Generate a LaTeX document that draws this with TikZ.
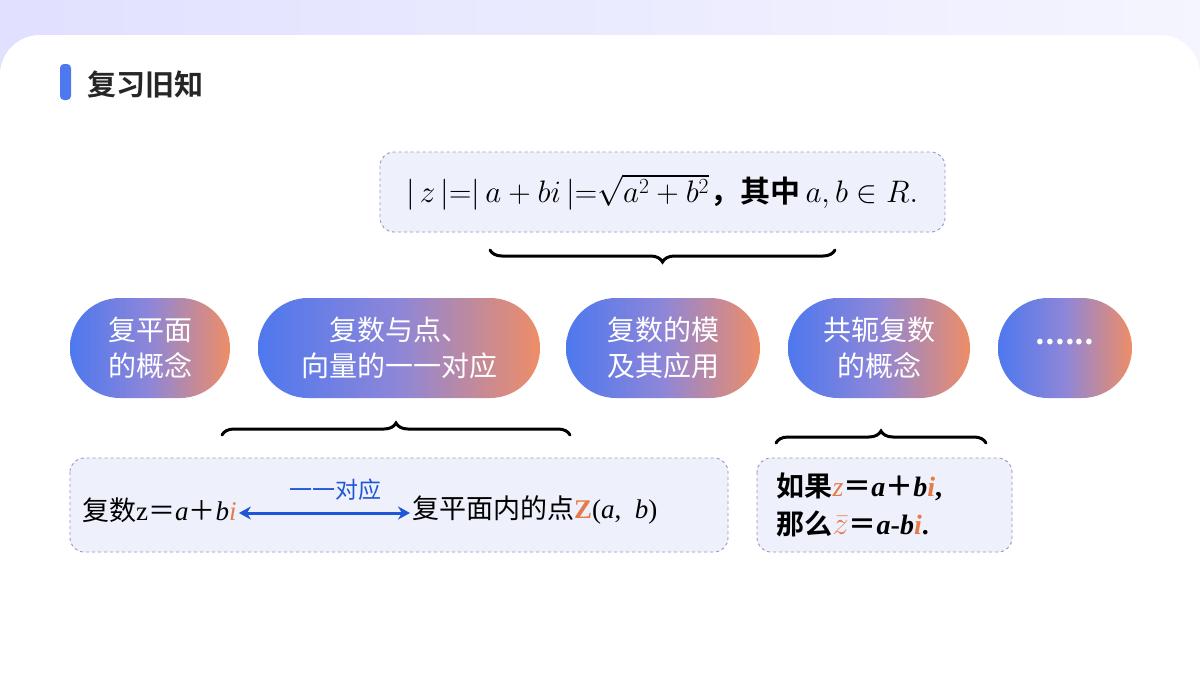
\documentclass[tikz,border=0pt]{standalone}
\usepackage{fontspec}
\usepackage{graphicx}
\setmainfont{Liberation Serif}
\newfontfamily\cjk{Noto Sans CJK SC}[BoldFont={Noto Sans CJK SC Bold}]
\usetikzlibrary{decorations.pathreplacing,calc,arrows.meta}
\definecolor{pblue}{HTML}{4E78EE}
\definecolor{pmid}{HTML}{8E86D8}
\definecolor{porange}{HTML}{EE8D66}
\definecolor{ored}{HTML}{E8794A}
\definecolor{abl}{HTML}{1F55D6}
\definecolor{boxfill}{HTML}{EEF1FB}
\definecolor{boxdraw}{HTML}{9C90C4}
\begin{document}
\begin{tikzpicture}[x=1pt,y=-1pt,
  pill/.style={rounded corners=50pt,left color=pblue,right color=porange,middle color=pmid,draw=none},
  ptext/.style={text=white,align=center,font=\cjk\fontsize{28}{36}\selectfont},
  dbox/.style={draw=boxdraw,dashed,fill=boxfill,rounded corners=14pt,line width=0.9pt},
  brc/.style={decorate,decoration={brace,amplitude=12pt},line width=3pt,line cap=round}]
\useasboundingbox (0,0) rectangle (1200,675);
\fill[left color=blue!12,right color=blue!4] (0,0) rectangle (1200,675);
\fill[white,rounded corners=40pt] (0,35) rectangle (1200,720);
\fill[pblue,rounded corners=4pt] (60,64) rectangle (71,100);
\node[anchor=west,font=\cjk\bfseries\fontsize{29}{34}\selectfont,text=black!85] (title) at (84,84) {复习旧知};
% top formula box
\draw[dbox] (380,152) rectangle (945,232);
\node (form) at (662,192) {\scalebox{1.25}{\fontsize{24}{30}\selectfont$|\,z\,|{=}|\,a+bi\,|{=}\sqrt{a^2+b^2}$\hspace{1pt}{\cjk\bfseries ，其中}\,$a,b\in R.$}};
% pills
\draw[pill] (70,298) rectangle (230,398); \node[ptext] (p1) at (150,348) {复平面\\的概念};
\draw[pill] (258,298) rectangle (540,398); \node[ptext] (p2) at (399,348) {复数与点、\\向量的一一对应};
\draw[pill] (566,298) rectangle (760,398); \node[ptext] (p3) at (663,348) {复数的模\\及其应用};
\draw[pill] (788,298) rectangle (970,398); \node[ptext] (p4) at (879,348) {共轭复数\\的概念};
\draw[pill] (998,298) rectangle (1132,398); \node[ptext,font=\cjk\bfseries\fontsize{30}{36}\selectfont] (p5) at (1065,342) {......};
% braces
\draw[brc] (835,250) -- (490,250);
\draw[brc] (222,435) -- (570,435);
\draw[brc] (776,443) -- (986,443);
% bottom boxes
\draw[dbox] (70,458) rectangle (728,552);
\draw[dbox] (757,458) rectangle (1012,552);
\node[anchor=west,font=\fontsize{27}{30}\selectfont,inner sep=2pt] (lt) at (80,510) {{\cjk 复数}z{\cjk ＝}\textit{a}{\cjk ＋}\textit{b}\textcolor{ored}{\textit{i}}};
\node[anchor=west,font=\fontsize{27}{30}\selectfont,inner sep=2pt] (rt) at (410,510) {{\cjk 复平面内的点}\textcolor{ored}{\textbf{Z}}(\textit{a}, \ \textit{b})};
\draw[abl,line width=3pt,{Stealth[length=12pt,width=13pt]}-{Stealth[length=12pt,width=13pt]}] ($(lt.east)+(0,3)$) -- ($(rt.west)+(0,3)$);
\node[text=abl,font=\cjk\fontsize{23}{26}\selectfont] (lab) at (335,490) {一一对应};
\node[anchor=west,align=left,font=\fontsize{28}{38}\selectfont] (cj) at (773,505) {{\cjk\bfseries 如果}\textcolor{ored}{\textit{z}}{\cjk\bfseries ＝}\textbf{\textit{a}}{\cjk\bfseries ＋}\textbf{\textit{b}}\textcolor{ored}{\textbf{\textit{i}}}\textbf{,}\\{\cjk\bfseries 那么}\textcolor{ored}{\scalebox{1.3}{$\bar{z}$}}{\cjk\bfseries ＝}\textbf{\textit{a}-\textit{b}}\textcolor{ored}{\textbf{\textit{i}}}\textbf{.}};
\end{tikzpicture}
\end{document}
